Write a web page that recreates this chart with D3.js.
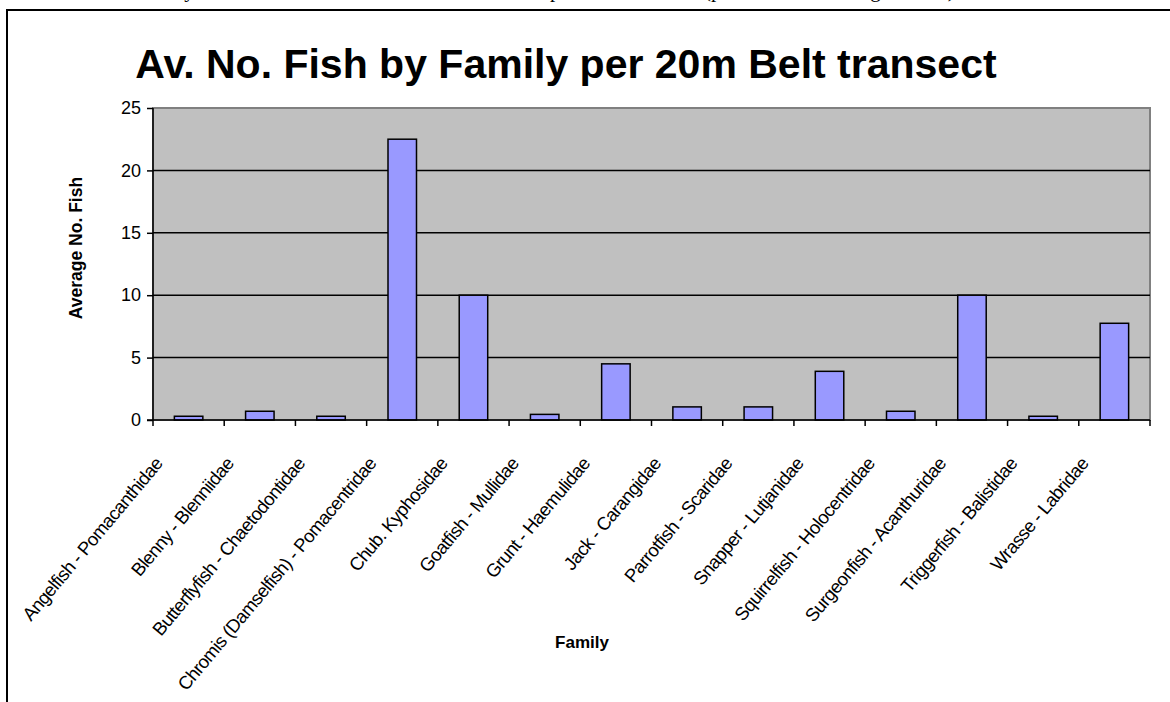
<!DOCTYPE html>
<html>
<head>
<meta charset="utf-8">
<script src="https://cdn.jsdelivr.net/npm/d3@7"></script>
<style>
  html, body { margin: 0; padding: 0; background: #fff; overflow: hidden; }
  text { font-family: Arial, "Liberation Sans", sans-serif; }
</style>
</head>
<body>
<svg id="chart" width="1170" height="702"></svg>
<script>
// Chart data
var families = [
    "Angelfish - Pomacanthidae",
    "Blenny - Blenniidae",
    "Butterflyfish - Chaetodontidae",
    "Chromis (Damselfish) - Pomacentridae",
    "Chub. Kyphosidae",
    "Goatfish - Mullidae",
    "Grunt - Haemulidae",
    "Jack - Carangidae",
    "Parrotfish - Scaridae",
    "Snapper - Lutjanidae",
    "Squirrelfish - Holocentridae",
    "Surgeonfish - Acanthuridae",
    "Triggerfish - Balistidae",
    "Wrasse - Labridae"
];
var avgFish = [0.3, 0.7, 0.3, 22.5, 10, 0.45, 4.5, 1.05, 1.05, 3.9, 0.7, 10, 0.3, 7.75];
var yTicks = [0, 5, 10, 15, 20, 25];

var svg = d3.select("#chart");

// Plot area
var plot = { left: 153, right: 1150, top: 108, bottom: 420 };

var x = d3.scaleBand()
    .domain(families)
    .range([plot.left, plot.right])
    .paddingInner(0.6)
    .paddingOuter(0.3);

var y = d3.scaleLinear()
    .domain([0, 25])
    .range([plot.bottom, plot.top]);

// Line of document text above the chart, cut by the page top
svg.append("text")
    .text("Fish of many different reef families have been seen to spawn on the bank (personal monitoring records).")
    .attr("x", 960)
    .attr("y", -3)
    .attr("text-anchor", "end")
    .style("font-family", "'Liberation Serif', 'Times New Roman', serif")
    .style("font-size", "21px")
    .style("fill", "#000");

// Outer chart frame (left + top, rest cut off by the page)
svg.append("path")
    .attr("d", "M7,702 V10 H1170")
    .style("fill", "none")
    .style("stroke", "#000")
    .style("stroke-width", 2);

// Title
svg.append("text")
    .text("Av. No. Fish by Family per 20m Belt transect")
    .attr("x", 566)
    .attr("y", 78)
    .attr("text-anchor", "middle")
    .style("font-size", "41px")
    .style("font-weight", "bold")
    .style("fill", "#000");

// Plot background
svg.append("rect")
    .attr("x", plot.left)
    .attr("y", plot.top)
    .attr("width", plot.right - plot.left)
    .attr("height", plot.bottom - plot.top)
    .style("fill", "#c0c0c0")
    .style("stroke", "#808080")
    .style("stroke-width", 2);

// Gridlines
svg.append("g")
    .selectAll("line")
    .data(yTicks.filter(d => d > 0 && d < 25))
    .enter().append("line")
    .attr("x1", plot.left)
    .attr("x2", plot.right)
    .attr("y1", d => y(d))
    .attr("y2", d => y(d))
    .style("stroke", "#000")
    .style("stroke-width", 1.5);

// Bars
svg.append("g")
    .selectAll("rect")
    .data(families)
    .enter().append("rect")
    .attr("x", d => x(d))
    .attr("y", (d, i) => y(avgFish[i]))
    .attr("width", x.bandwidth())
    .attr("height", (d, i) => y(0) - y(avgFish[i]))
    .style("fill", "#9999ff")
    .style("stroke", "#000")
    .style("stroke-width", 1.5);

// Y axis
var yAxis = d3.axisLeft(y)
    .tickValues(yTicks)
    .tickSize(6)
    .tickPadding(6);
var gy = svg.append("g")
    .attr("transform", `translate(${plot.left},0)`)
    .call(yAxis);
gy.select(".domain").attr("d", `M0,${plot.top}V${plot.bottom}`).style("stroke-width", 1.5);
gy.selectAll(".tick line").style("stroke-width", 1.5);
gy.selectAll(".tick text")
    .style("font-family", "Arial, 'Liberation Sans', sans-serif")
    .style("font-size", "18px")
    .style("fill", "#000");

// X axis: ticks at category boundaries
var step = x.step();
var bounds = families.map(d => x(d) - step * 0.3).concat([plot.right]);
var gx = svg.append("g");
gx.append("line")
    .attr("x1", plot.left - 6)
    .attr("x2", plot.right)
    .attr("y1", plot.bottom)
    .attr("y2", plot.bottom)
    .style("stroke", "#000")
    .style("stroke-width", 1.5);
gx.selectAll(".xtick")
    .data(bounds)
    .enter().append("line")
    .attr("class", "xtick")
    .attr("x1", d => d)
    .attr("x2", d => d)
    .attr("y1", plot.bottom)
    .attr("y2", plot.bottom + 6)
    .style("stroke", "#000")
    .style("stroke-width", 1.5);

// Rotated category labels
gx.selectAll(".xlabel")
    .data(families)
    .enter().append("text")
    .attr("class", "xlabel")
    .text(d => d)
    .attr("transform", d => `translate(${x(d) + x.bandwidth() / 2 - 30},${plot.bottom + 40}) rotate(-50)`)
    .attr("text-anchor", "end")
    .attr("dominant-baseline", "central")
    .style("font-size", "18.5px")
    .style("letter-spacing", "-0.6px")
    .style("fill", "#000");

// Axis titles
svg.append("text")
    .text("Average No. Fish")
    .attr("transform", `translate(82,248) rotate(-90)`)
    .attr("text-anchor", "middle")
    .style("font-size", "17.5px")
    .style("font-weight", "bold")
    .style("fill", "#000");

svg.append("text")
    .text("Family")
    .attr("x", 582)
    .attr("y", 648)
    .attr("text-anchor", "middle")
    .style("font-size", "17px")
    .style("font-weight", "bold")
    .style("fill", "#000");
</script>
</body>
</html>
